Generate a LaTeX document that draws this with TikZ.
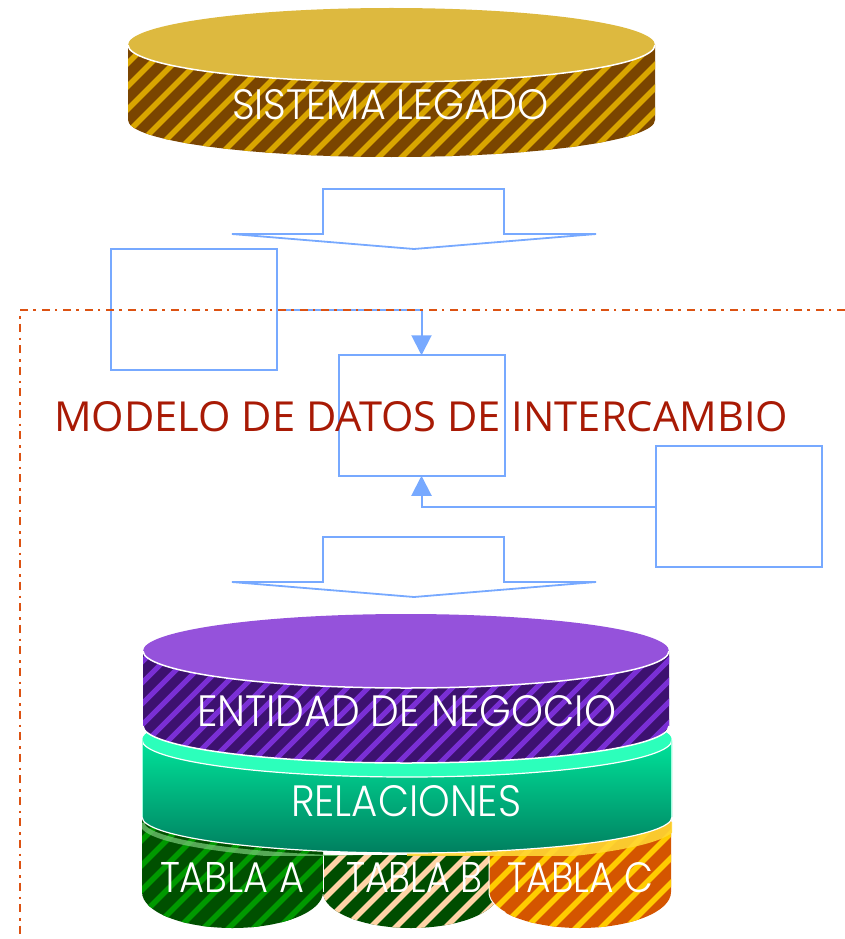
\documentclass[tikz,border=0pt]{standalone}
\usepackage{fontspec}
\usepackage{graphicx}
\setmainfont{Poppins}[UprightFont=* Light]
\newfontfamily\titlefont{Open Sans}
\usetikzlibrary{arrows.meta}
\definecolor{linkblue}{HTML}{77A9FF}
\definecolor{frameorange}{HTML}{DC5212}
\definecolor{titlered}{HTML}{A81A05}
\definecolor{goldtop}{HTML}{DDB93F}
\definecolor{golddark}{HTML}{7A4500}
\definecolor{goldlight}{HTML}{D9A600}
\definecolor{purptop}{HTML}{9552DB}
\definecolor{purpdark}{HTML}{3D1170}
\definecolor{purplight}{HTML}{7A2FD5}
\definecolor{greentop}{HTML}{2CFFBB}
\definecolor{greenhi}{HTML}{00E39A}
\definecolor{greenlo}{HTML}{007F5F}
\definecolor{tadark}{HTML}{005000}
\definecolor{talight}{HTML}{009900}
\definecolor{tbdark}{HTML}{004D00}
\definecolor{tblight}{HTML}{FFD3A6}
\definecolor{tcdark}{HTML}{D45500}
\definecolor{tclight}{HTML}{FFCC00}
\newcommand{\fittext}[3]{\resizebox{#1pt}{#2pt}{#3}}
% \stripes{x0}{x1}{y0}{y1}{period}{stripe width}
\newcommand{\stripes}[6]{%
  \pgfmathsetmacro{\ystripe}{#4-#3}%
  \pgfmathsetmacro{\xfirst}{#1-\ystripe}%
  \pgfmathsetmacro{\xnext}{\xfirst+#5}%
  \foreach \sx in {\xfirst,\xnext,...,#2}{%
    \draw[line width=#6, color=stripecol] (\sx,#4) -- ++(\ystripe,-\ystripe);
  }}
\tikzset{
  x=1pt,y=-1pt,
  flowbox/.style={draw=linkblue,line width=2pt,fill=none,minimum width=166pt,minimum height=120.5pt,inner sep=0pt,outer sep=0pt},
  blockarrow/.style={draw=linkblue,line width=1.8pt,line join=miter},
  link/.style={draw=linkblue,line width=2pt,-{Triangle[length=20pt,width=20pt]}},
  frameline/.style={draw=frameorange,line width=2pt,dash pattern=on 8pt off 6pt on 2.5pt off 5pt},
  rim/.style={draw=white,line width=1.5pt},
  capsw/.style={anchor=base west,inner sep=0pt,outer sep=0pt,text=white},
}
\begin{document}
\begin{tikzpicture}
\useasboundingbox (0,0) rectangle (845,939);

% ---------- top cylinder
\begin{scope}
\clip (128,45) -- (128,120) arc[start angle=180,end angle=0,x radius=263.5,y radius=37] -- (655,45) -- cycle;
\fill[golddark] (120,40) rectangle (660,160);
\colorlet{stripecol}{goldlight}
\stripes{128}{800}{40}{160}{23}{5.5pt}
\end{scope}
\fill[goldtop] (391.5,45) ellipse[x radius=263.5,y radius=37];
\draw[rim] (128,45) arc[start angle=180,end angle=0,x radius=263.5,y radius=37];
\node[capsw] (legacy) at (232,120) {\fittext{317}{30}{SISTEMA LEGADO}};

% ---------- block arrows
\draw[blockarrow] (323,189) -- (504,189) -- (504,234) -- (596,234) -- (414,249) -- (232,234) -- (323,234) -- cycle;
\draw[blockarrow] (323,537) -- (504,537) -- (504,582) -- (596,582) -- (414,597) -- (232,582) -- (323,582) -- cycle;

% ---------- boxes and connectors
\node[flowbox] (boxleft) at (194,309.5) {};
\node[flowbox] (boxmid) at (421.5,415.5) {};
\node[flowbox] (boxright) at (738.5,506.5) {};
\draw[link] (boxleft.east) -| (boxmid.north);
\draw[link] (boxright.west) -| (boxmid.south);

% ---------- frame, over the connector
\draw[frameline] (845,310) -- (20,310) -- (20,939);
\node[anchor=base west,inner sep=0pt,text=titlered] (title) at (54,431) {\fittext{734}{30}{\titlefont MODELO DE DATOS DE INTERCAMBIO}};

% ---------- tables (the strip above y=855 is the blurred top, hidden in part by the band)
\begin{scope}
\clip (142,818) -- (142,892) arc[start angle=180,end angle=0,x radius=90.5,y radius=36] -- (323,818) -- cycle;
\fill[tadark] (140,815) rectangle (330,930);
\colorlet{stripecol}{talight}
\stripes{142}{420}{815}{930}{25}{5.5pt}
\end{scope}
\begin{scope}
\clip (323,855) -- (323,892) arc[start angle=180,end angle=0,x radius=88,y radius=36] -- (499,855) -- cycle;
\fill[tbdark] (320,850) rectangle (500,930);
\colorlet{stripecol}{tblight}
\stripes{323}{590}{850}{930}{25}{5.5pt}
\end{scope}
\begin{scope}
\clip (489,818) -- (489,892) arc[start angle=180,end angle=0,x radius=91,y radius=36] -- (671,818) -- cycle;
\fill[tcdark] (485,815) rectangle (675,930);
\colorlet{stripecol}{tclight}
\stripes{489}{760}{815}{930}{25}{5.5pt}
\end{scope}
\draw[white,line width=1pt] (323,855) -- (323,892);
\draw[white,line width=1pt] (489,855) -- (489,892) arc[start angle=180,end angle=145,x radius=91,y radius=36];

% blurred rims just under the green band, cut at y=855
\begin{scope}
\clip (142,815) rectangle (672,855);
\draw[color=talight!55!white,line width=5pt,opacity=.75] (142,823) arc[start angle=180,end angle=90,x radius=265,y radius=36];
\draw[color=tclight!80!white,line width=12pt,opacity=.9] (672,822) arc[start angle=0,end angle=90,x radius=265,y radius=36];
\end{scope}

% ---------- green band
\shade[top color=greenhi,bottom color=greenlo] (142,740) -- (142,817) arc[start angle=180,end angle=0,x radius=265,y radius=36] -- (672,740) -- cycle;
\fill[greentop] (142,740) arc[start angle=180,end angle=360,x radius=265,y radius=37] arc[start angle=0,end angle=180,x radius=265,y radius=37] -- cycle;
\draw[rim,line width=1.2pt] (142,740) arc[start angle=180,end angle=0,x radius=265,y radius=37];
\draw[rim,line width=1.2pt] (142,817) arc[start angle=180,end angle=0,x radius=265,y radius=36];
\draw[color=greentop!45!white,line width=1.3pt] (671.5,738) -- (671.5,817);
\draw[color=greentop!45!white,line width=1.3pt] (142.5,738) -- (142.5,817);
\node[capsw] (rel) at (291,816) {\fittext{230}{31}{RELACIONES}};

% ---------- purple cylinder
\begin{scope}
\clip (143,651) -- (143,726) arc[start angle=180,end angle=0,x radius=263,y radius=37] -- (669,651) -- cycle;
\fill[purpdark] (140,640) rectangle (670,770);
\colorlet{stripecol}{purplight}
\stripes{143}{800}{640}{770}{21}{5pt}
\end{scope}
\draw[rim] (143,726) arc[start angle=180,end angle=0,x radius=263,y radius=37];
\fill[purptop] (406,651) ellipse[x radius=263,y radius=37];
\draw[rim] (143,651) arc[start angle=180,end angle=0,x radius=263,y radius=37];
\node[capsw] (ent) at (197,726) {\fittext{419}{31}{ENTIDAD DE NEGOCIO}};

% ---------- table labels
\node[capsw] (ta) at (160,892) {\fittext{144}{30}{TABLA A}};
\node[capsw] (tb) at (346,892) {\fittext{136}{30}{TABLA B}};
\node[capsw] (tc) at (507,892) {\fittext{146}{30}{TABLA C}};
\end{tikzpicture}
\end{document}
